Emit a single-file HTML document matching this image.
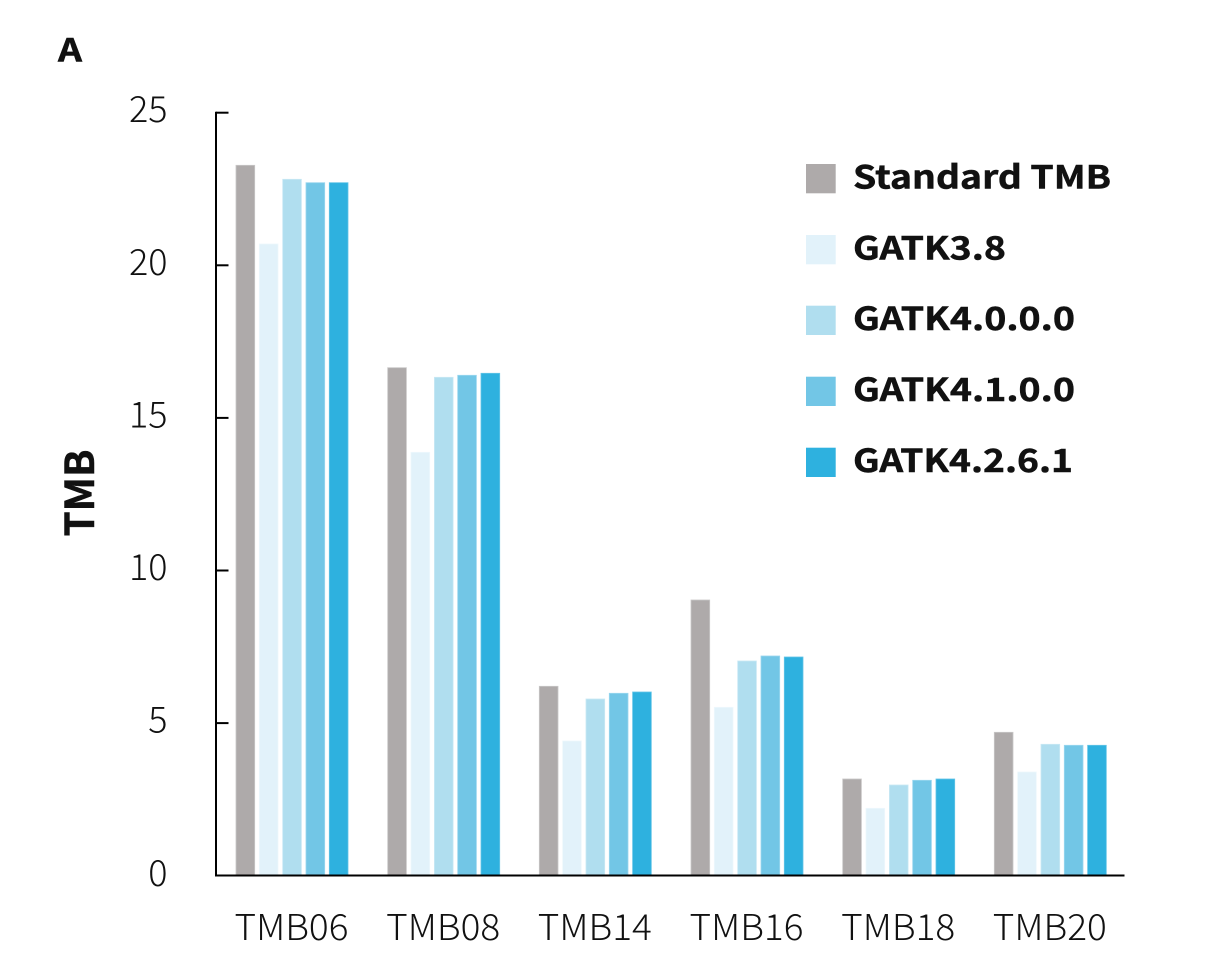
<!DOCTYPE html>
<html>
<head>
<meta charset="utf-8">
<style>
  html, body { margin: 0; padding: 0; background: #ffffff; }
  svg { display: block; }
  .t { font-family: "Noto Sans CJK JP", "Liberation Sans", sans-serif; fill: #111; }
  .b { stroke: #111; stroke-width: 0.5; }
</style>
</head>
<body>
<svg width="1221" height="974" viewBox="0 0 1221 974" xmlns="http://www.w3.org/2000/svg">
  <rect x="0" y="0" width="1221" height="974" fill="#ffffff"/>

  <!-- Panel label -->
  <text class="t b" x="58" y="61.7" font-size="32" font-weight="700" textLength="24" lengthAdjust="spacingAndGlyphs">A</text>

  <!-- Y axis title -->
  <text class="t b" transform="translate(94,493) rotate(-90)" text-anchor="middle" font-size="40" font-weight="700" textLength="87" lengthAdjust="spacingAndGlyphs">TMB</text>

  <!-- Bars -->
  <g stroke-width="0.8">
    <!-- TMB06 -->
    <rect x="236" y="165.3" width="18.7" height="709.7" fill="#aeaaaa" stroke="#c9c7c7"/>
    <rect x="259.3" y="244" width="18.7" height="631" fill="#e2f2fa" stroke="#eef8fc"/>
    <rect x="282.7" y="179.3" width="18.7" height="695.7" fill="#b0deef" stroke="#c9e8f4"/>
    <rect x="306" y="182.7" width="18.7" height="692.3" fill="#72c6e6" stroke="#9ad6ee"/>
    <rect x="329.3" y="182.7" width="18.7" height="692.3" fill="#2eb1df" stroke="#62c4e7"/>
    <!-- TMB08 -->
    <rect x="387.7" y="367.7" width="18.7" height="507.3" fill="#aeaaaa" stroke="#c9c7c7"/>
    <rect x="411" y="452.3" width="18.7" height="422.7" fill="#e2f2fa" stroke="#eef8fc"/>
    <rect x="434.4" y="377.3" width="18.7" height="497.7" fill="#b0deef" stroke="#c9e8f4"/>
    <rect x="457.7" y="375.3" width="18.7" height="499.7" fill="#72c6e6" stroke="#9ad6ee"/>
    <rect x="481" y="373.3" width="18.7" height="501.7" fill="#2eb1df" stroke="#62c4e7"/>
    <!-- TMB14 -->
    <rect x="539.3" y="686.3" width="18.7" height="188.7" fill="#aeaaaa" stroke="#c9c7c7"/>
    <rect x="562.6" y="741" width="18.7" height="134" fill="#e2f2fa" stroke="#eef8fc"/>
    <rect x="586" y="699" width="18.7" height="176" fill="#b0deef" stroke="#c9e8f4"/>
    <rect x="609.3" y="693.3" width="18.7" height="181.7" fill="#72c6e6" stroke="#9ad6ee"/>
    <rect x="632.6" y="692" width="18.7" height="183" fill="#2eb1df" stroke="#62c4e7"/>
    <!-- TMB16 -->
    <rect x="691" y="600" width="18.7" height="275" fill="#aeaaaa" stroke="#c9c7c7"/>
    <rect x="714.3" y="707.3" width="18.7" height="167.7" fill="#e2f2fa" stroke="#eef8fc"/>
    <rect x="737.7" y="661" width="18.7" height="214" fill="#b0deef" stroke="#c9e8f4"/>
    <rect x="761" y="656" width="18.7" height="219" fill="#72c6e6" stroke="#9ad6ee"/>
    <rect x="784.3" y="657" width="18.7" height="218" fill="#2eb1df" stroke="#62c4e7"/>
    <!-- TMB18 -->
    <rect x="842.7" y="779" width="18.7" height="96" fill="#aeaaaa" stroke="#c9c7c7"/>
    <rect x="866" y="808.3" width="18.7" height="66.7" fill="#e2f2fa" stroke="#eef8fc"/>
    <rect x="889.4" y="785" width="18.7" height="90" fill="#b0deef" stroke="#c9e8f4"/>
    <rect x="912.7" y="780.3" width="18.7" height="94.7" fill="#72c6e6" stroke="#9ad6ee"/>
    <rect x="936" y="779" width="18.7" height="96" fill="#2eb1df" stroke="#62c4e7"/>
    <!-- TMB20 -->
    <rect x="994.3" y="732.3" width="18.7" height="142.7" fill="#aeaaaa" stroke="#c9c7c7"/>
    <rect x="1017.6" y="772" width="18.7" height="103" fill="#e2f2fa" stroke="#eef8fc"/>
    <rect x="1041" y="744.3" width="18.7" height="130.7" fill="#b0deef" stroke="#c9e8f4"/>
    <rect x="1064.3" y="745.3" width="18.7" height="129.7" fill="#72c6e6" stroke="#9ad6ee"/>
    <rect x="1087.6" y="745.3" width="18.7" height="129.7" fill="#2eb1df" stroke="#62c4e7"/>
  </g>

  <!-- Axes -->
  <g stroke="#000" stroke-width="2" fill="none">
    <line x1="216" y1="111.7" x2="216" y2="876.5"/>
    <line x1="215" y1="875.5" x2="1124.5" y2="875.5"/>
    <line x1="216" y1="112.7" x2="228.5" y2="112.7"/>
    <line x1="216" y1="265.3" x2="228.5" y2="265.3"/>
    <line x1="216" y1="417.9" x2="228.5" y2="417.9"/>
    <line x1="216" y1="570.5" x2="228.5" y2="570.5"/>
    <line x1="216" y1="723.1" x2="228.5" y2="723.1"/>
  </g>

  <!-- Y tick labels -->
  <g class="t" font-size="36" font-weight="300" text-anchor="end">
    <text x="167.5" y="122">25</text>
    <text x="167.5" y="274.8">20</text>
    <text x="167.5" y="427.4">15</text>
    <text x="167.5" y="580">10</text>
    <text x="167.5" y="732.6">5</text>
    <text x="167.5" y="886">0</text>
  </g>

  <!-- X tick labels -->
  <g class="t" font-size="36" font-weight="300" text-anchor="middle">
    <text x="291.5" y="940" textLength="114" lengthAdjust="spacingAndGlyphs">TMB06</text>
    <text x="443.2" y="940" textLength="114" lengthAdjust="spacingAndGlyphs">TMB08</text>
    <text x="594.8" y="940" textLength="114" lengthAdjust="spacingAndGlyphs">TMB14</text>
    <text x="746.5" y="940" textLength="114" lengthAdjust="spacingAndGlyphs">TMB16</text>
    <text x="898.2" y="940" textLength="114" lengthAdjust="spacingAndGlyphs">TMB18</text>
    <text x="1049.8" y="940" textLength="114" lengthAdjust="spacingAndGlyphs">TMB20</text>
  </g>

  <!-- Legend -->
  <rect x="806" y="164" width="29.7" height="29.3" fill="#aeaaaa"/>
  <rect x="806" y="235" width="29.7" height="29.3" fill="#e2f2fa"/>
  <rect x="806" y="305.7" width="29.7" height="29.3" fill="#b0deef"/>
  <rect x="806" y="376.7" width="29.7" height="29.3" fill="#72c6e6"/>
  <rect x="806" y="447.7" width="29.7" height="29.3" fill="#2eb1df"/>
  <g class="t b" font-size="32" font-weight="700">
    <text x="853" y="188.3" textLength="258" lengthAdjust="spacingAndGlyphs">Standard TMB</text>
    <text x="853" y="259.3" textLength="153" lengthAdjust="spacingAndGlyphs">GATK3.8</text>
    <text x="853" y="330" textLength="222" lengthAdjust="spacingAndGlyphs">GATK4.0.0.0</text>
    <text x="853" y="401" textLength="222" lengthAdjust="spacingAndGlyphs">GATK4.1.0.0</text>
    <text x="853" y="472" textLength="220" lengthAdjust="spacingAndGlyphs">GATK4.2.6.1</text>
  </g>
</svg>
</body>
</html>
